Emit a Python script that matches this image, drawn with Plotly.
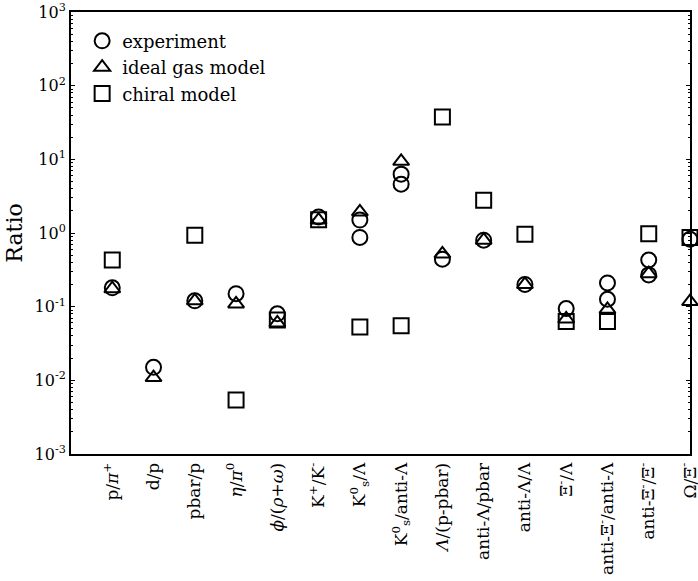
import plotly.graph_objects as go

# Particle ratio categories (x axis, in display order)
categories = [
    "p/<i>π</i><sup>+</sup>",
    "d/p",
    "pbar/p",
    "<i>η</i>/<i>π</i><sup>0</sup>",
    "<i>ϕ</i>/(<i>ρ</i>+<i>ω</i>)",
    "K<sup>+</sup>/K<sup>-</sup>",
    "K<sup>0</sup><sub>s</sub>/Λ",
    "K<sup>0</sup><sub>s</sub>/anti-Λ",
    "<i>Λ</i>/(p-pbar)",
    "anti-Λ/pbar",
    "anti-Λ/Λ",
    "Ξ<sup>-</sup>/Λ",
    "anti-Ξ<sup>-</sup>/anti-Λ",
    "anti-Ξ<sup>-</sup>/Ξ<sup>-</sup>",
    "Ω/Ξ<sup>-</sup>",
]

# Measured ratios (some ratios have more than one measurement)
exp_idx = [0, 1, 2, 3, 4, 5, 6, 6, 7, 7, 8, 9, 10, 11, 12, 12, 13, 13, 14]
exp_val = [0.18, 0.015, 0.12, 0.15, 0.080, 1.65, 1.5, 0.87, 6.3, 4.6,
           0.44, 0.80, 0.20, 0.094, 0.21, 0.126, 0.43, 0.27, 0.82]

# Ideal gas model predictions
igm_idx = list(range(15))
igm_val = [0.175, 0.0109, 0.12, 0.109, 0.060, 1.5, 1.93, 9.4, 0.52,
           0.80, 0.20, 0.068, 0.092, 0.28, 0.117]

# Chiral model predictions (no value for d/p)
chi_idx = [0, 2, 3, 4, 5, 6, 7, 8, 9, 10, 11, 12, 13, 14]
chi_val = [0.43, 0.93, 0.0054, 0.066, 1.51, 0.053, 0.055, 37.6, 2.79,
           0.96, 0.063, 0.063, 0.98, 0.87]

# Decade tick labels for the log axis
y_tickvals = [1e-3, 1e-2, 1e-1, 1e0, 1e1, 1e2, 1e3]
y_ticktext = ["10<sup>-3</sup>", "10<sup>-2</sup>", "10<sup>-1</sup>", "10<sup>0</sup>",
              "10<sup>1</sup>", "10<sup>2</sup>", "10<sup>3</sup>"]

FONT = "DejaVu Serif"


def cats(idx):
    return [categories[i] for i in idx]


fig = go.Figure()
series = [
    ("experiment", exp_idx, exp_val, "circle-open", 15),
    ("ideal gas model", igm_idx, igm_val, "triangle-up-open", 14),
    ("chiral model", chi_idx, chi_val, "square-open", 15),
]
for name, idx, vals, symbol, size in series:
    fig.add_trace(go.Scatter(
        x=cats(idx), y=vals, name=name, mode="markers",
        cliponaxis=False,
        marker=dict(symbol=symbol, size=size, color="black",
                    line=dict(color="black", width=2)),
    ))

fig.update_layout(
    width=698, height=581,
    margin=dict(l=71, r=8, t=12, b=127),
    paper_bgcolor="white", plot_bgcolor="white",
    font=dict(family=FONT, size=16, color="black"),
    showlegend=True,
    legend=dict(x=0.018, y=0.976, xanchor="left", yanchor="top",
                bgcolor="rgba(0,0,0,0)", borderwidth=0,
                font=dict(family=FONT, size=18)),
)

fig.update_xaxes(
    type="category", categoryorder="array", categoryarray=categories,
    range=[-1, 14], tickangle=-90, ticks="", automargin=False,
    showline=True, linewidth=2, linecolor="black", mirror=True,
    showgrid=False, zeroline=False,
    tickfont=dict(family=FONT, size=17),
)

fig.update_yaxes(
    type="log", range=[-3.001, 3.001], automargin=False,
    tickmode="array", tickvals=y_tickvals, ticktext=y_ticktext,
    ticks="inside", ticklen=4, tickwidth=1, tickcolor="black",
    minor=dict(ticks="inside", ticklen=2, tickcolor="black", dtick="D1", showgrid=False),
    showline=True, linewidth=2, linecolor="black", mirror="ticks",
    showgrid=False, zeroline=False,
    tickfont=dict(family=FONT, size=16),
    title=dict(text="Ratio", font=dict(family=FONT, size=22), standoff=6),
)

fig.write_html("out.html")
